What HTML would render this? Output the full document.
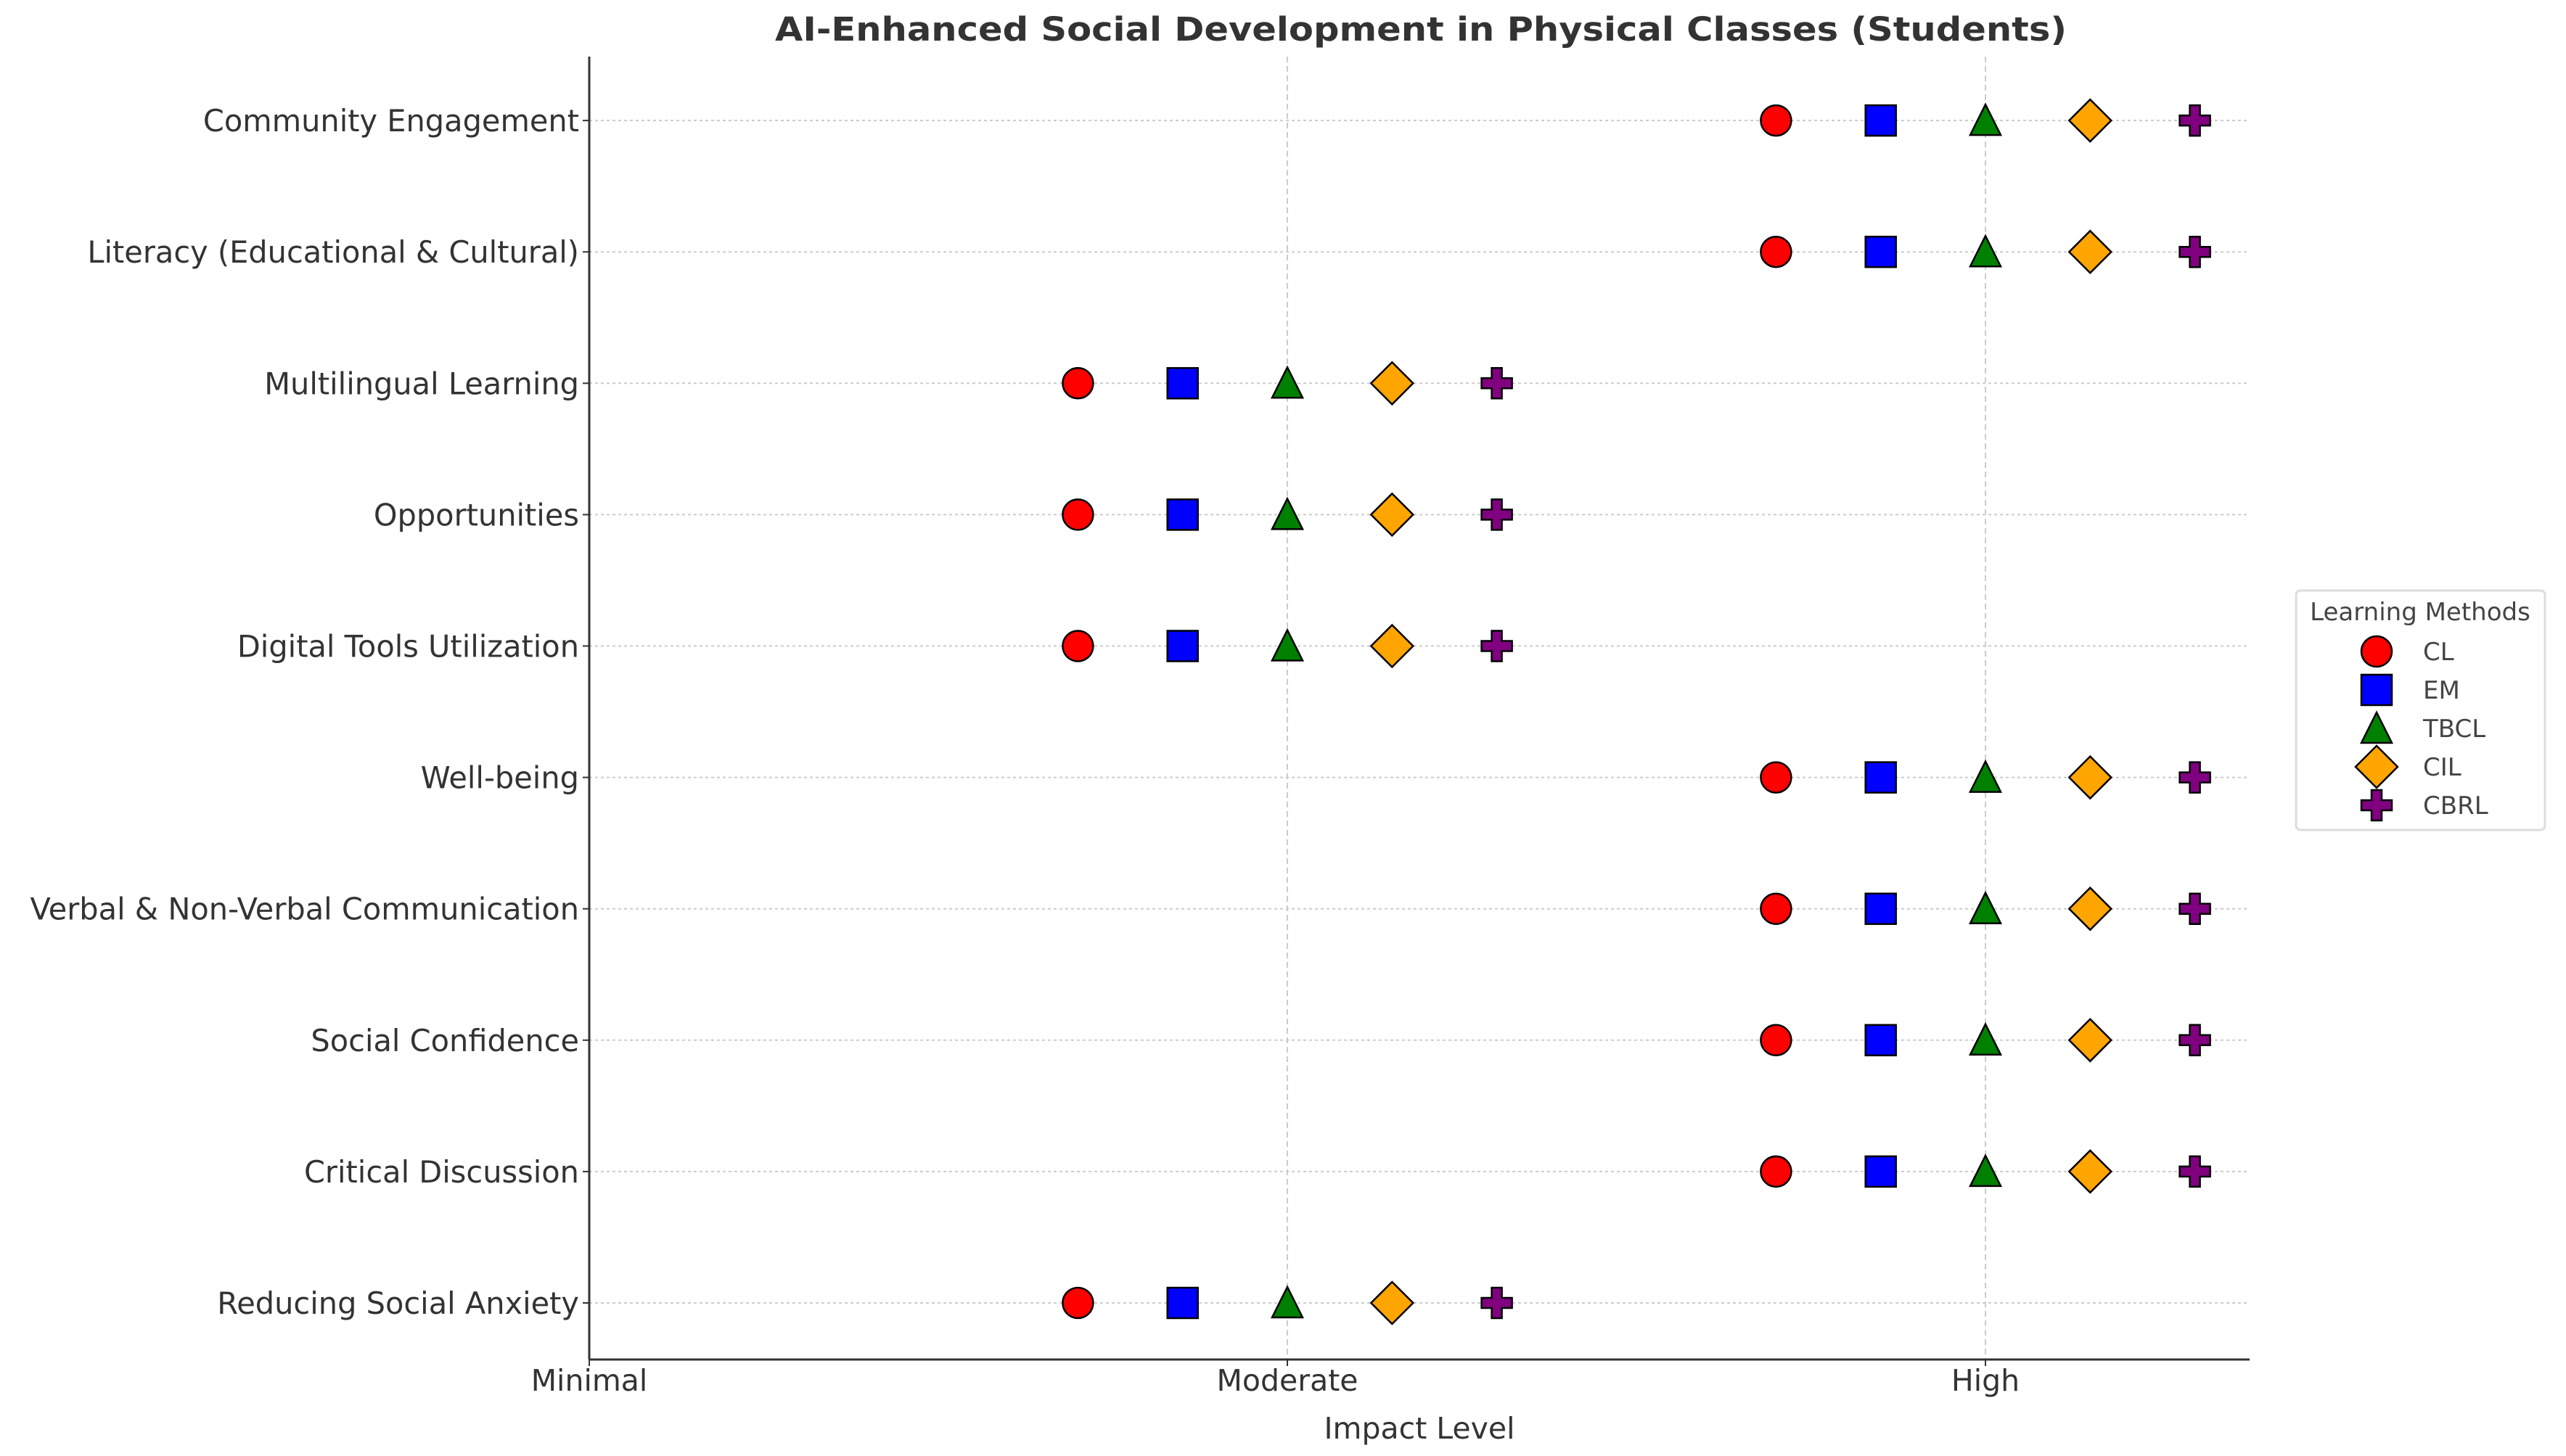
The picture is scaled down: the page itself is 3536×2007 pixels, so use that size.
<!DOCTYPE html>
<html><head><meta charset="utf-8"><style>
html,body{margin:0;padding:0;background:#fff;}
svg{display:block;font-family:"DejaVu Sans","Liberation Sans",sans-serif;}
</style></head><body>
<svg id="chart" width="3536" height="2007" viewBox="0 0 3536 2007" xmlns="http://www.w3.org/2000/svg">
<text x="1958" y="56" text-anchor="middle" font-size="45" font-weight="bold" fill="#333" textLength="1780" lengthAdjust="spacingAndGlyphs">AI-Enhanced Social Development in Physical Classes (Students)</text>
<g id="grid"></g><g id="axes"></g><g id="marks"></g><g id="legend"></g>
</svg>
<script>
const categories = ["Reducing Social Anxiety","Critical Discussion","Social Confidence","Verbal & Non-Verbal Communication","Well-being","Digital Tools Utilization","Opportunities","Multilingual Learning","Literacy (Educational & Cultural)","Community Engagement"];
const xTickLabels = ["Minimal","Moderate","High"];
const methods = ["CL","EM","TBCL","CIL","CBRL"];
const clValues   = [0.7,1.7,1.7,1.7,1.7,0.7,0.7,0.7,1.7,1.7];
const emValues   = [0.85,1.85,1.85,1.85,1.85,0.85,0.85,0.85,1.85,1.85];
const tbclValues = [1.0,2.0,2.0,2.0,2.0,1.0,1.0,1.0,2.0,2.0];
const cilValues  = [1.15,2.15,2.15,2.15,2.15,1.15,1.15,1.15,2.15,2.15];
const cbrlValues = [1.3,2.3,2.3,2.3,2.3,1.3,1.3,1.3,2.3,2.3];

const NS="http://www.w3.org/2000/svg";
const X0=812, XU=962, AXR=3100, Y0=1796, YU=-181.1, AXT=78, AXB=1874;
const xs=v=>X0+v*XU, ys=i=>Y0+i*YU;
function mk(tag,attrs,parent){const e=document.createElementNS(NS,tag);for(const k in attrs)e.setAttribute(k,attrs[k]);parent.appendChild(e);return e;}
const grid=document.getElementById('grid'),axes=document.getElementById('axes'),marks=document.getElementById('marks'),legend=document.getElementById('legend');

xTickLabels.forEach((t,i)=>{
  if(i>0){const g=mk('line',{x1:xs(i),x2:xs(i),y1:AXT,y2:AXB,stroke:'#ccc','stroke-width':2,'stroke-dasharray':'8,5'},grid);
  
  }
  const tk=mk('line',{x1:xs(i),x2:xs(i),y1:AXB,y2:AXB+9,stroke:'#333','stroke-width':2},axes);
  
  
  const tx=mk('text',{x:xs(i),y:AXB+43,'text-anchor':'middle','font-size':41,fill:'#333'},axes);
  tx.textContent=t;
  
  
});
categories.forEach((c,i)=>{
  const g=mk('line',{x1:X0,x2:AXR,y1:ys(i),y2:ys(i),stroke:'#ccc','stroke-width':2,'stroke-dasharray':'4,4'},grid);
  
  
  const tk=mk('line',{x1:X0-9,x2:X0,y1:ys(i),y2:ys(i),stroke:'#333','stroke-width':2},axes);
  
  
  const tx=mk('text',{x:X0-14,y:ys(i)+15,'text-anchor':'end','font-size':41.5,fill:'#333'},axes);
  tx.textContent=c;
  
  
});
const ya=mk('line',{x1:X0,x2:X0,y1:AXT,y2:AXB,stroke:'#333','stroke-width':3},axes);


const xa=mk('line',{x1:X0,x2:AXR,y1:AXB,y2:AXB,stroke:'#333','stroke-width':3},axes);


const xt=mk('text',{x:1956,y:1983,'text-anchor':'middle','font-size':41,fill:'#333'},axes);
xt.textContent='Impact Level';



const colors=['#ff0000','#0000ff','#008000','#ffa500','#800080'];
function shape(k,cx,cy,p){
  const r=21, st={stroke:'#000','stroke-width':2.5,fill:colors[k]};
  let e;
  if(k===0) e=mk('circle',Object.assign({cx,cy,r},st),p);
  else if(k===1) e=mk('rect',Object.assign({x:cx-r,y:cy-r,width:2*r,height:2*r},st),p);
  else if(k===2) e=mk('polygon',Object.assign({points:`${cx},${cy-22} ${cx+21},${cy+20} ${cx-21},${cy+20}`},st),p);
  else if(k===3) e=mk('polygon',Object.assign({points:`${cx},${cy-29} ${cx+29},${cy} ${cx},${cy+29} ${cx-29},${cy}`},st),p);
  else {const a=7,b=21;e=mk('polygon',Object.assign({points:`${cx-a},${cy-b} ${cx+a},${cy-b} ${cx+a},${cy-a} ${cx+b},${cy-a} ${cx+b},${cy+a} ${cx+a},${cy+a} ${cx+a},${cy+b} ${cx-a},${cy+b} ${cx-a},${cy+a} ${cx-b},${cy+a} ${cx-b},${cy-a} ${cx-a},${cy-a}`},st),p);}
  return e;
}
const series=[clValues,emValues,tbclValues,cilValues,cbrlValues];
series.forEach((vals,k)=>{
  vals.forEach((v,i)=>{
    const e=shape(k,xs(v),ys(i),marks);
    
    
  });
});

const lb=mk('rect',{x:3164,y:814,width:343,height:330,rx:6,fill:'#fff',stroke:'#ddd','stroke-width':3},legend);


const lt=mk('text',{x:3335,y:855,'text-anchor':'middle','font-size':34,fill:'#444'},legend);
lt.textContent='Learning Methods';


methods.forEach((m,k)=>{
  const cy=898+k*53;
  const g=mk('g',{},legend);
  
  
  shape(k,3275,cy,g);
  const t=mk('text',{x:3339,y:cy+12,'font-size':34,fill:'#444'},g);
  t.textContent=m;
});
</script>
</body></html>
